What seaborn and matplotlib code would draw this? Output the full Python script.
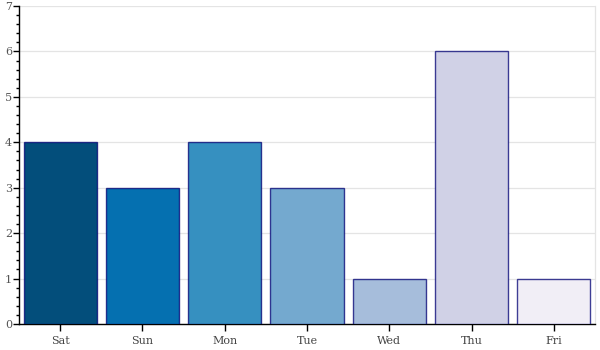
import matplotlib
matplotlib.use("Agg")
import matplotlib.pyplot as plt
from matplotlib.ticker import MultipleLocator
import seaborn as sns
import pandas as pd

days = ["Sat", "Sun", "Mon", "Tue", "Wed", "Thu", "Fri"]
counts = [4, 3, 4, 3, 1, 6, 1]
colors = ["#034e7b", "#0570b0", "#3690c0", "#74a9cf", "#a6bddb", "#d0d1e6", "#f1eef6"]

sns.set_theme(style="white")
plt.rcParams["font.family"] = ["DejaVu Serif"]

df = pd.DataFrame({"day": days, "count": counts})

fig = plt.figure(figsize=(6, 3.5), dpi=100)
ax = fig.add_axes([19 / 600, 26 / 350, 576 / 600, 318 / 350])

sns.barplot(data=df, x="day", y="count", hue="day", palette=colors,
            order=days, hue_order=days, legend=False, width=0.89,
            edgecolor=(0.0, 0.0, 0.45, 0.75), linewidth=1.0, saturation=1,
            ax=ax, zorder=3)

ax.set_ylim(0, 7)
ax.set_xlim(-0.5, len(days) - 0.5)
ax.yaxis.set_major_locator(MultipleLocator(1))
ax.yaxis.set_minor_locator(MultipleLocator(0.2))
ax.grid(axis="y", color="#e4e4e4", linewidth=0.9, zorder=0)
ax.set_axisbelow(True)

ax.spines["top"].set_visible(False)
ax.spines["right"].set_color("#e4e4e4")
ax.spines["right"].set_linewidth(0.9)
for side in ["left", "bottom"]:
    ax.spines[side].set_color("black")
    ax.spines[side].set_linewidth(1.0)

ax.tick_params(axis="y", which="major", direction="out", length=4, width=1,
               color="black", labelsize=8, labelcolor="#555555", pad=1,
               left=True)
ax.tick_params(axis="y", which="minor", direction="out", length=2.5, width=1,
               color="black", left=True)
ax.tick_params(axis="x", which="major", direction="out", length=5, width=1,
               color="black", labelsize=8, labelcolor="#444444", pad=4,
               bottom=True)

ax.set_xlabel("")
ax.set_ylabel("")

fig.savefig("out.png", dpi=100)
